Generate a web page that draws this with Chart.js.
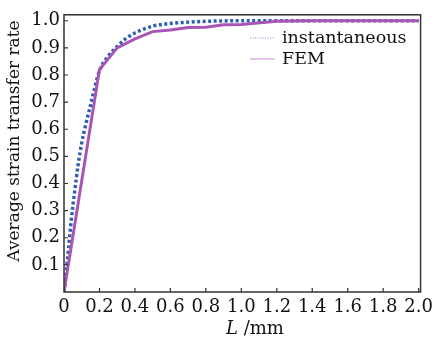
<!DOCTYPE html>
<html>
<head>
<meta charset="utf-8">
<script src="https://cdn.jsdelivr.net/npm/chart.js@4.4.1/dist/chart.umd.min.js"></script>
<style>
  html, body { margin: 0; padding: 0; background: #fff; }
  canvas { display: block; }
</style>
</head>
<body>
<canvas id="chart" width="438" height="340"></canvas>
<script>
// Data
const instLength = [0, 0.02, 0.04, 0.06, 0.08, 0.1, 0.12, 0.15, 0.2, 0.25, 0.3, 0.35, 0.4, 0.5, 0.6, 0.7, 0.8, 1.0, 1.2, 2.0];
const instRate   = [0, 0.12, 0.26, 0.37, 0.47, 0.55, 0.61, 0.69, 0.815, 0.87, 0.905, 0.935, 0.955, 0.98, 0.99, 0.995, 0.998, 1.0, 1.0, 1.0];

const femLength = [0, 0.2, 0.3, 0.4, 0.5, 0.6, 0.7, 0.8, 0.9, 1.0, 1.2, 1.4, 1.6, 1.8, 2.0];
const femRate   = [0, 0.82, 0.90, 0.933, 0.96, 0.966, 0.975, 0.976, 0.985, 0.986, 0.998, 1.0, 1.0, 1.0, 1.0];

const xTicks = [0, 0.2, 0.4, 0.6, 0.8, 1.0, 1.2, 1.4, 1.6, 1.8, 2.0];
const yTicks = [0.1, 0.2, 0.3, 0.4, 0.5, 0.6, 0.7, 0.8, 0.9, 1.0];

const seriesNames = ['instantaneous', 'FEM'];
const yTitle = 'Average strain transfer rate';
const xTitleVar = 'L';
const xTitleUnit = ' /mm';

const FONT = "'DejaVu Serif', serif";
const AXIS_COLOR = '#333';

function toPoints(xs, ys) {
  return xs.map((x, i) => ({ x: x, y: ys[i] }));
}

// frame, inward ticks, axis titles and legend
const decorPlugin = {
  id: 'decor',
  afterDraw(chart) {
    const ctx = chart.ctx;
    const a = chart.chartArea;
    const xs = chart.scales.x;
    const ys = chart.scales.y;
    ctx.save();
    ctx.strokeStyle = AXIS_COLOR;
    ctx.lineWidth = 1.5;
    ctx.strokeRect(a.left, a.top, a.right - a.left, a.bottom - a.top);

    ctx.lineWidth = 1.2;
    ctx.beginPath();
    xTicks.forEach(v => {
      if (v === 0) return;
      const px = xs.getPixelForValue(v);
      ctx.moveTo(px, a.bottom);
      ctx.lineTo(px, a.bottom - 4);
    });
    yTicks.forEach(v => {
      const py = ys.getPixelForValue(v);
      ctx.moveTo(a.left, py);
      ctx.lineTo(a.left + 4, py);
    });
    ctx.stroke();

    ctx.fillStyle = '#111';
    ctx.textBaseline = 'middle';

    // y title
    ctx.save();
    ctx.font = '17px ' + FONT;
    ctx.translate(15, 141);
    ctx.rotate(-Math.PI / 2);
    ctx.textAlign = 'center';
    ctx.fillText(yTitle, 0, 0);
    ctx.restore();

    // x title with italic variable
    ctx.font = 'italic 18px ' + FONT;
    const w1 = ctx.measureText(xTitleVar).width;
    ctx.font = '18px ' + FONT;
    const w2 = ctx.measureText(xTitleUnit).width;
    const x0 = 255 - (w1 + w2) / 2;
    ctx.textAlign = 'left';
    ctx.font = 'italic 18px ' + FONT;
    ctx.fillText(xTitleVar, x0, 329);
    ctx.font = '18px ' + FONT;
    ctx.fillText(xTitleUnit, x0 + w1, 329);

    // legend
    const lx = 250, ly = 38, gap = 21;
    ctx.font = '17.5px ' + FONT;
    const order = chart.data.datasets.slice().sort((p, q) => p.legendIndex - q.legendIndex);
    order.forEach((ds, i) => {
      const y = ly + i * gap;
      ctx.beginPath();
      ctx.strokeStyle = ds.legendColor;
      ctx.lineWidth = 1;
      ctx.setLineDash(ds.borderDash.length ? [1, 1.5] : []);
      ctx.moveTo(lx, y);
      ctx.lineTo(lx + 25, y);
      ctx.stroke();
      ctx.setLineDash([]);
      ctx.fillText(ds.label, lx + 32, y);
    });
    ctx.restore();
  }
};

new Chart(document.getElementById('chart'), {
  type: 'line',
  data: {
    datasets: [
      {
        label: seriesNames[1],
        legendIndex: 1,
        data: toPoints(femLength, femRate),
        borderColor: '#a855b5',
        legendColor: '#c98bd0',
        borderWidth: 3,
        borderDash: [],
        pointRadius: 0,
        tension: 0,
        order: 1
      },
      {
        label: seriesNames[0],
        legendIndex: 0,
        data: toPoints(instLength, instRate),
        borderColor: '#2d5fb3',
        legendColor: '#7f9ad6',
        borderWidth: 3.5,
        borderDash: [3, 2.5],
        pointRadius: 0,
        cubicInterpolationMode: 'monotone',
        order: 2
      }
    ]
  },
  options: {
    responsive: false,
    animation: false,
    layout: { padding: { left: 0, right: 12, top: 7, bottom: 0 } },
    plugins: {
      legend: { display: false },
      tooltip: { enabled: false }
    },
    scales: {
      x: {
        type: 'linear',
        min: 0,
        max: 2.011,
        afterBuildTicks(scale) { scale.ticks = xTicks.map(v => ({ value: v })); },
        afterFit(scale) { scale.height = 48; },
        grid: { display: false, drawTicks: false },
        border: { display: false },
        ticks: {
          color: '#111',
          font: { family: FONT, size: 18 },
          padding: 5,
          maxRotation: 0,
          callback: v => v === 0 ? '0' : v.toFixed(1)
        }
      },
      y: {
        type: 'linear',
        min: 0,
        max: 1.022,
        afterBuildTicks(scale) { scale.ticks = yTicks.map(v => ({ value: v })); },
        afterFit(scale) { scale.width = 64; },
        grid: { display: false, drawTicks: false },
        border: { display: false },
        ticks: {
          color: '#111',
          font: { family: FONT, size: 18 },
          padding: 4,
          callback: v => v.toFixed(1)
        }
      }
    }
  },
  plugins: [decorPlugin]
});
</script>
</body>
</html>
